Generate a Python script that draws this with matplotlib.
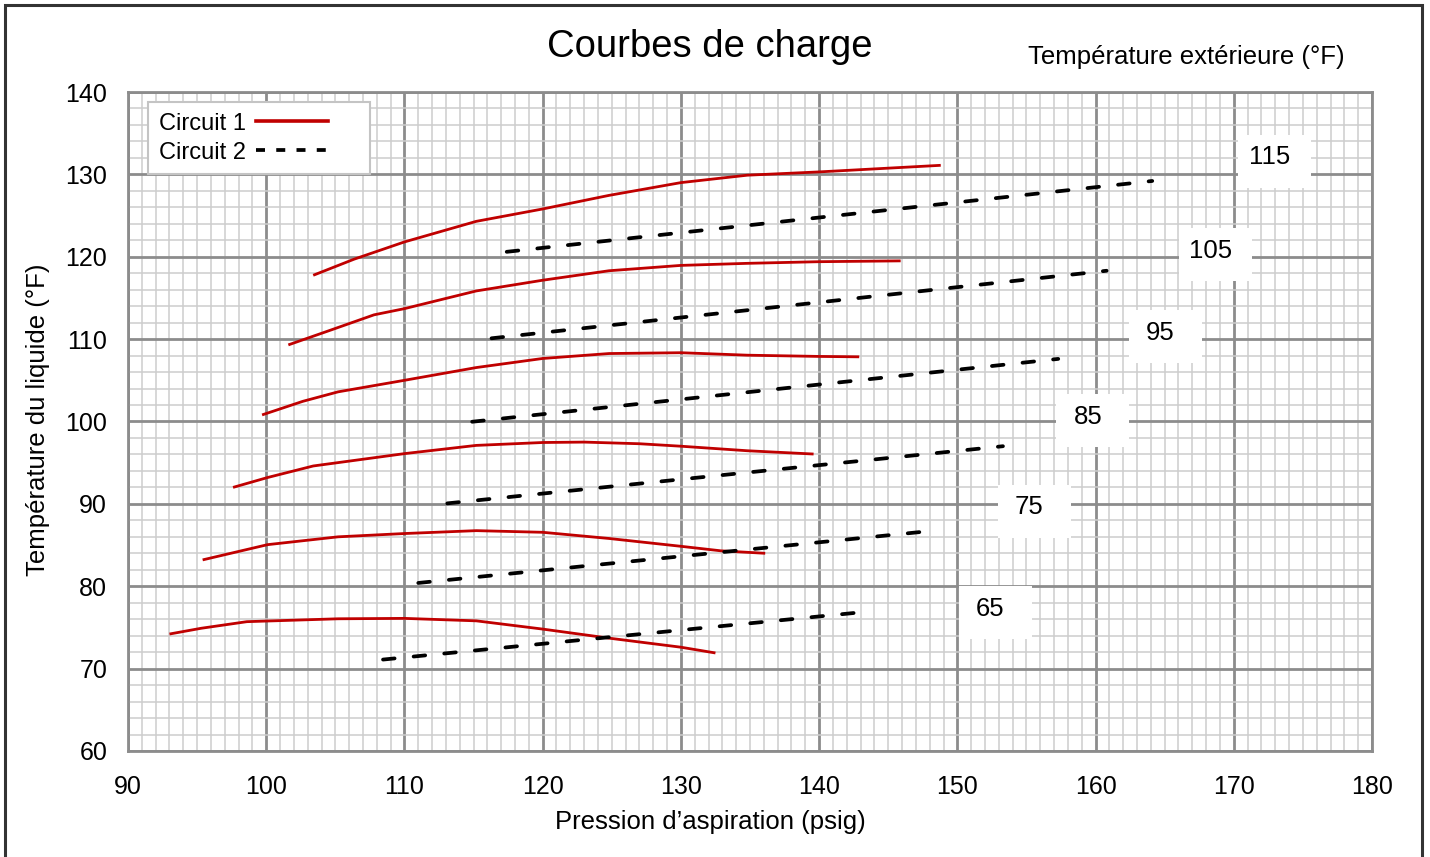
import matplotlib
matplotlib.use("Agg")
import matplotlib.pyplot as plt
from matplotlib.patches import Rectangle
from matplotlib.lines import Line2D
from matplotlib.legend_handler import HandlerLine2D
import numpy as np

plt.rcParams['font.family'] = ['Liberation Sans', 'DejaVu Sans']

# Circuit 1 curves (red), per outdoor temperature
c1_115_x = [103.4, 106.35, 110.0, 115.2, 120.0, 124.8, 130.0, 134.8, 140.0, 148.8]
c1_115_y = [117.75, 119.7, 121.8, 124.3, 125.8, 127.45, 129.0, 129.9, 130.3, 131.1]
c1_105_x = [101.6, 104.5, 107.8, 110.0, 115.2, 120.0, 124.8, 130.0, 134.8, 140.0, 145.9]
c1_105_y = [109.3, 111.0, 112.95, 113.7, 115.85, 117.15, 118.3, 118.95, 119.2, 119.4, 119.5]
c1_95_x = [99.7, 102.65, 105.2, 110.0, 115.2, 120.0, 124.8, 130.0, 134.8, 140.0, 142.9]
c1_95_y = [100.8, 102.45, 103.6, 105.0, 106.55, 107.65, 108.25, 108.35, 108.05, 107.9, 107.85]
c1_85_x = [97.6, 100.1, 103.4, 110.0, 115.2, 120.0, 123.0, 127.0, 130.0, 134.8, 139.6]
c1_85_y = [92.0, 93.2, 94.6, 96.1, 97.1, 97.45, 97.5, 97.3, 97.0, 96.45, 96.05]
c1_75_x = [95.4, 100.1, 105.2, 110.0, 115.2, 120.0, 124.8, 130.0, 132.9, 136.1]
c1_75_y = [83.2, 85.05, 86.0, 86.4, 86.75, 86.55, 85.8, 84.85, 84.3, 84.0]
c1_65_x = [93.0, 95.3, 98.6, 105.2, 110.0, 115.2, 120.0, 124.8, 130.0, 132.5]
c1_65_y = [74.2, 74.9, 75.7, 76.05, 76.1, 75.8, 74.8, 73.7, 72.6, 71.9]

# Circuit 2 lines (black dashed)
c2_115_x = [117.4, 164.1]
c2_115_y = [120.6, 129.2]
c2_105_x = [116.3, 160.8]
c2_105_y = [110.1, 118.3]
c2_95_x = [114.9, 157.3]
c2_95_y = [99.97, 107.6]
c2_85_x = [113.1, 153.3]
c2_85_y = [90.06, 97.0]
c2_75_x = [111.0, 148.6]
c2_75_y = [80.4, 86.8]
c2_65_x = [108.45, 143.4]
c2_65_y = [71.1, 76.9]

temp_labels = ["115", "105", "95", "85", "75", "65"]
label_x = [172.6, 168.35, 164.7, 159.45, 155.2, 152.4]
label_y = [132.1, 120.7, 110.75, 100.55, 89.6, 77.25]

x_ticks = [90, 100, 110, 120, 130, 140, 150, 160, 170, 180]
y_ticks = [60, 70, 80, 90, 100, 110, 120, 130, 140]

red = "#C00000"
grid_major = "#8c8c8c"
grid_minor = "#cdcdcd"

W, H = 1430, 857
fig = plt.figure(figsize=(W/100, H/100), dpi=100)
ax = fig.add_axes([128/W, 1-751/H, (1372-128)/W, (751-92)/H])

ax.set_xlim(90, 180)
ax.set_ylim(60, 140)
ax.set_xticks(x_ticks)
ax.set_yticks(y_ticks)
ax.set_xticks(np.arange(90, 181, 1), minor=True)
ax.set_yticks(np.arange(60, 141, 2), minor=True)
ax.grid(which='minor', color=grid_minor, lw=1.1, zorder=0)
ax.grid(which='major', color=grid_major, lw=2.0, zorder=0)
ax.set_axisbelow(True)
ax.tick_params(which='both', length=0, labelsize=18)
ax.tick_params(axis='x', pad=17)
ax.tick_params(axis='y', pad=15)
for s in ax.spines.values():
    s.set_color(grid_major)
    s.set_linewidth(2.0)

c1 = [(c1_115_x, c1_115_y), (c1_105_x, c1_105_y), (c1_95_x, c1_95_y),
      (c1_85_x, c1_85_y), (c1_75_x, c1_75_y), (c1_65_x, c1_65_y)]
c2 = [(c2_115_x, c2_115_y), (c2_105_x, c2_105_y), (c2_95_x, c2_95_y),
      (c2_85_x, c2_85_y), (c2_75_x, c2_75_y), (c2_65_x, c2_65_y)]

for x, y in c1:
    ax.plot(x, y, color=red, lw=2.0, solid_capstyle='butt', solid_joinstyle='round', zorder=3)
for x, y in c2:
    ax.plot(x, y, color='black', lw=2.7, dashes=(3.1, 5.1), dash_capstyle='round', zorder=3)

# outdoor temperature labels in white boxes
box_w, box_h = 73/13.822, 53/8.2375
dx, dy = 5/13.822, -4/8.2375
for t, lx, ly in zip(temp_labels, label_x, label_y):
    ax.add_patch(Rectangle((lx + dx - box_w/2, ly + dy - box_h/2), box_w, box_h,
                           fc='white', ec='none', zorder=4))
    ax.text(lx, ly, t, ha='center', va='center', fontsize=18.5, zorder=5)


class ShortLine(HandlerLine2D):
    def create_artists(self, legend, orig_handle, xdescent, ydescent, width,
                       height, fontsize, trans):
        return super().create_artists(legend, orig_handle, xdescent, ydescent,
                                      width * 0.7, height, fontsize, trans)


handles = [Line2D([], [], color=red, lw=2.6),
           Line2D([], [], color='black', lw=2.7, dashes=(2.4, 3.0))]
leg = ax.legend(handles, ["Circuit 1", "Circuit 2"], loc='upper left',
                bbox_to_anchor=(148/W, 1-102/H), bbox_transform=fig.transFigure,
                markerfirst=False, fontsize=17, fancybox=False, framealpha=1,
                edgecolor='#c4c4c4', handlelength=4.4, handletextpad=0.42,
                labelspacing=0.3, borderpad=0.45, borderaxespad=0,
                handler_map={Line2D: ShortLine()})
leg.get_frame().set_linewidth(1.5)
leg.set_zorder(6)

ax.set_xlabel("Pression d\u2019aspiration (psig)", fontsize=18.5)
ax.xaxis.set_label_coords(710/W, 1-822/H, transform=fig.transFigure)
ax.xaxis.label.set_va('center')
ax.set_ylabel("Température du liquide (°F)", fontsize=18.5)
ax.yaxis.set_label_coords(38/W, 1-420/H, transform=fig.transFigure)
ax.yaxis.label.set_va('center')

fig.text(710/W, 1-47/H, "Courbes de charge", ha='center', va='center', fontsize=27.5)
fig.text(1186/W, 1-57/H, "Température extérieure (°F)", ha='center', va='center', fontsize=18.5)

fig.patches.append(Rectangle((5/W, -0.02), (1422-5)/W, 1.02-5/H,
                             transform=fig.transFigure, fill=False,
                             ec='#333333', lw=2.2, zorder=10))

fig.savefig("out.png", dpi=100)
